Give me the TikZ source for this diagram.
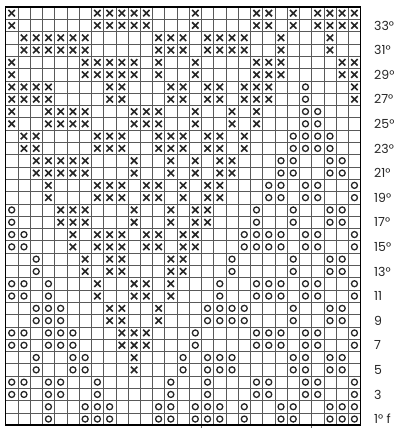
\documentclass[tikz,border=0pt]{standalone}
\usepackage{fontspec}
\setmainfont{Poppins}
\begin{document}
\begin{tikzpicture}[
    x=1pt, y=1pt,
    gridline/.style = {draw=black!65, line width=0.5pt},
    frame/.style = {draw=black, line width=1.6pt},
    knit/.style = {draw=black!85, line width=1.6pt},
    purl/.style = {draw=black!85, line width=1.3pt},
    rowlabel/.style = {
        anchor=west,
        inner sep=0pt,
        font=\fontsize{12.5}{14}\selectfont,
        text=black!85
    }
]
\useasboundingbox (0,0) rectangle (400,428);

\begin{scope}[shift={(5.6,2.8)}, x=12.24pt, y=12.3pt]

\foreach \c in {1,...,28}
  \draw[gridline] (\c,0) -- (\c,34);
\foreach \r in {1,...,33}
  \draw[gridline] (0,\r) -- (29,\r);
\draw[gridline] (16,0) -- ++(0,-2.5pt) (25,0) -- ++(0,-2.5pt);

\foreach \lab/\cols in {
    33/{1,8,9,10,11,12,16,21,22,24,26,27,28,29},
    31/{2,3,4,5,6,7,13,14,15,17,18,19,20,23,27},
    29/{1,7,8,9,10,11,13,16,21,22,23,28,29},
    27/{1,2,3,4,9,10,14,15,17,18,20,21,22,29},
    25/{1,4,5,6,7,11,12,13,16,19,21},
    23/{2,3,8,9,10,13,14,15,17,18,20},
    21/{3,4,5,6,7,11,14,16,18,19},
    19/{4,8,9,10,12,13,15,17,18},
    17/{5,6,7,11,14,16,17},
    15/{6,8,9,10,12,13,15,16},
    13/{7,9,10,14,15},
    11/{8,11,12,14},
    9/{9,10,13},
    7/{10,11,12},
    5/{11}}
  \foreach \c in \cols
    \foreach \dy in {0,1}
      \draw[knit] (\c-0.5,\lab+\dy-0.5) +(-3.2pt,-3.2pt) -- +(3.2pt,3.2pt)
                                        +(-3.2pt,3.2pt) -- +(3.2pt,-3.2pt);

\foreach \lab/\cols in {
    27/{25},
    25/{25,26},
    23/{24,25,26,27},
    21/{23,24,27,28},
    19/{22,23,25,26,29},
    17/{1,21,24,27,28},
    15/{1,2,20,21,22,23,25,26,29},
    13/{3,19,24,27,28},
    11/{1,2,4,18,21,22,23,25,26,29},
    9/{3,4,5,17,18,19,20,24,27,28},
    7/{1,2,4,5,6,16,21,22,23,25,26,29},
    5/{3,6,7,15,17,18,19,24,25,27,28},
    3/{1,2,4,5,8,14,17,21,22,25,26,29},
    1/{4,7,8,9,13,14,16,17,18,20,23,24,27,28,29}}
  \foreach \c in \cols
    \foreach \dy in {0,1}
      \draw[purl] (\c-0.5,\lab+\dy-0.5) circle[radius=3pt];

\draw[frame] (0,0) rectangle (29,34);

\foreach \lab/\txt in {33/33°,31/31°,29/29°,27/27°,25/25°,23/23°,21/21°,
    19/19°,17/17°,15/15°,13/13°,11/11,9/9,7/7,5/5,3/3,1/1° f}
  \node[rowlabel] (lab\lab) at (30.1,\lab-0.5) {\txt};

\end{scope}
\end{tikzpicture}
\end{document}
